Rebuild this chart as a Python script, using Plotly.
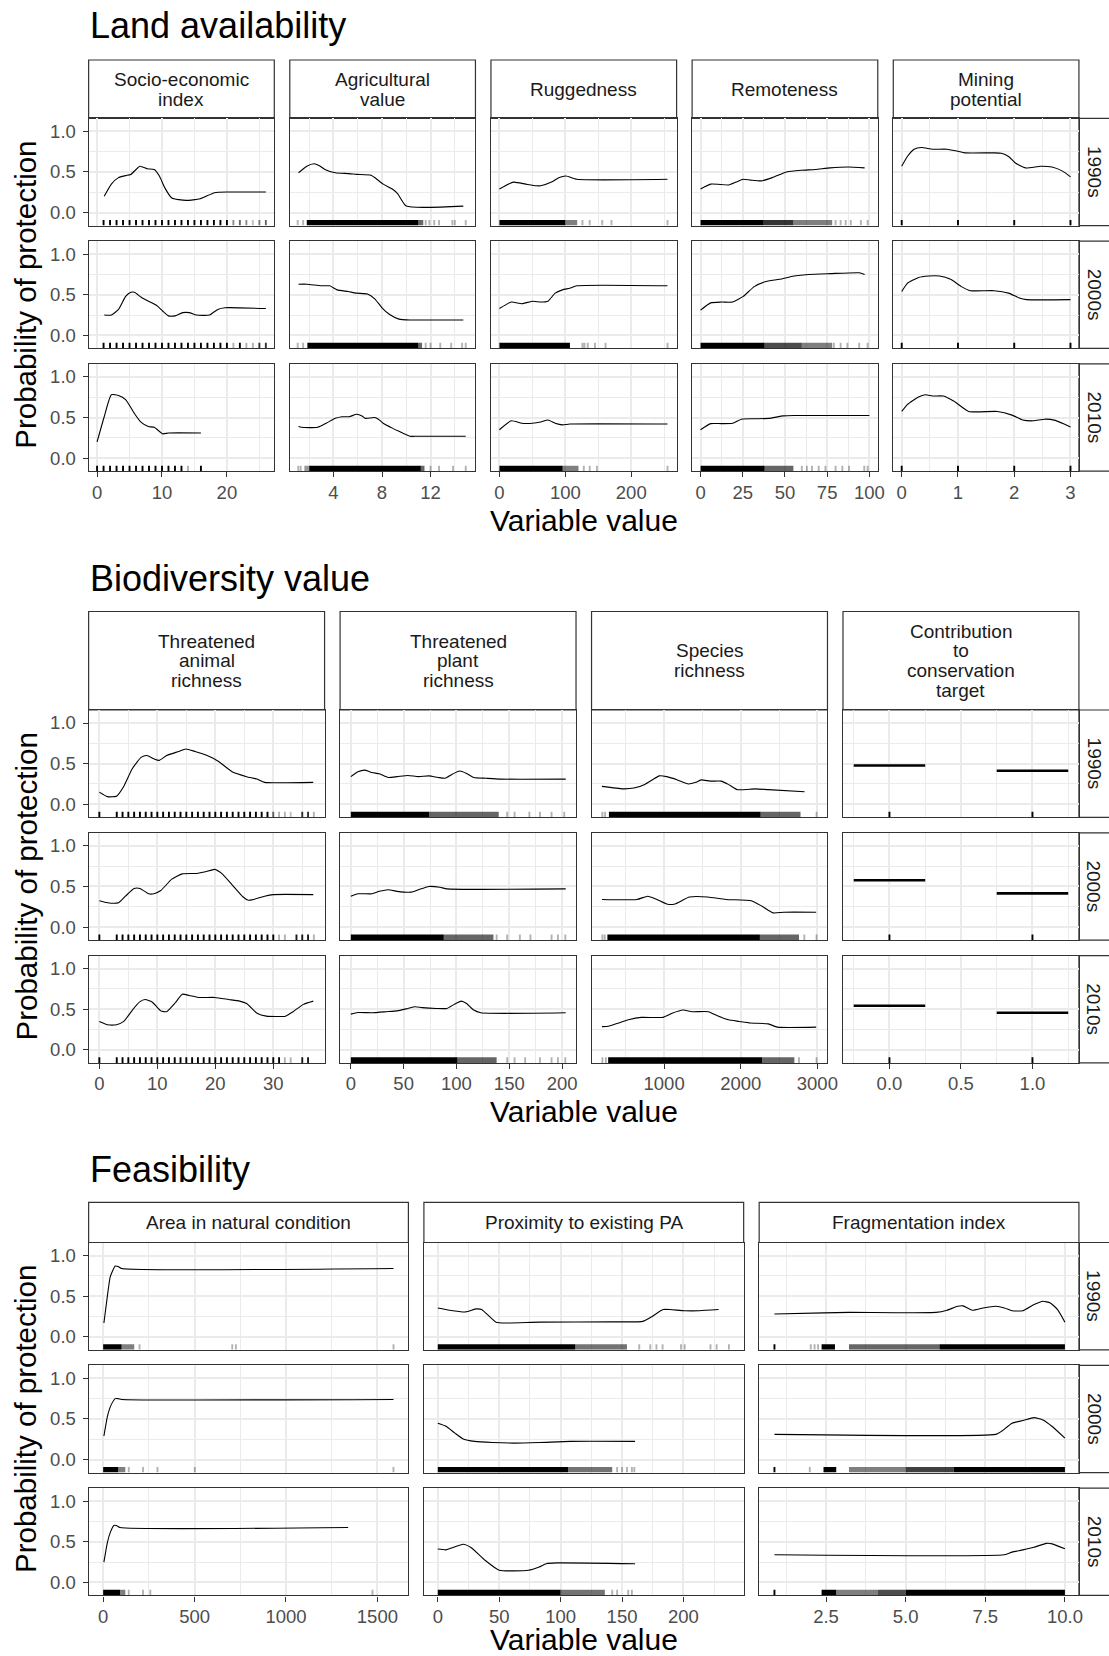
import plotly.graph_objects as go

# ------------------------------------------------------------------
# DATA
# ------------------------------------------------------------------
DECADES = ["1990s", "2000s", "2010s"]

# ---- Land availability: partial-dependence curves (x, probability) ----
socio_1990s = [(1.1, 0.20), (2.2, 0.35), (3.3, 0.43), (4.4, 0.455), (5.2, 0.47), (6.6, 0.57), (7.7, 0.54),
               (8.8, 0.53), (9.6, 0.45), (10.4, 0.31), (11.5, 0.18), (13.7, 0.15), (15.9, 0.17), (18.1, 0.245),
               (20.3, 0.253), (26, 0.253)]
socio_2000s = [(1.1, 0.25), (2.2, 0.25), (3.3, 0.32), (4.4, 0.48), (5.2, 0.53), (5.75, 0.53), (6.8, 0.47),
               (8.2, 0.41), (9.3, 0.36), (10.1, 0.30), (11, 0.24), (12, 0.24), (13.2, 0.28), (14.2, 0.28),
               (15.3, 0.25), (17.3, 0.25), (18.6, 0.32), (19.7, 0.34), (26, 0.33)]
socio_2010s = [(0, 0.20), (1.1, 0.51), (2.2, 0.78), (3.3, 0.77), (4.4, 0.72), (5.75, 0.55), (6.8, 0.44),
               (7.9, 0.39), (8.8, 0.38), (10.1, 0.30), (11, 0.31), (16, 0.31)]

agri_1990s = [(1.12, 0.49), (1.8, 0.57), (2.4, 0.60), (2.8, 0.58), (3.3, 0.53), (4.15, 0.49), (5.3, 0.48),
              (5.9, 0.47), (7.1, 0.46), (7.5, 0.42), (8.1, 0.35), (8.85, 0.29), (9.3, 0.23), (10.0, 0.08),
              (14.7, 0.08)]
agri_2000s = [(1.12, 0.63), (1.8, 0.63), (3.0, 0.61), (3.7, 0.61), (4.3, 0.56), (5.2, 0.54), (5.9, 0.52),
              (6.8, 0.51), (7.4, 0.45), (8.0, 0.34), (8.6, 0.26), (9.4, 0.20), (10.3, 0.19), (14.7, 0.19)]
agri_2010s = [(1.12, 0.39), (1.35, 0.38), (2.7, 0.38), (3.4, 0.43), (4.15, 0.49), (4.7, 0.51), (5.3, 0.51),
              (5.9, 0.54), (6.35, 0.52), (6.6, 0.49), (7.4, 0.50), (7.7, 0.48), (8.1, 0.43), (8.85, 0.37),
              (9.4, 0.33), (10.3, 0.27), (10.9, 0.27), (14.9, 0.27)]

rugged_1990s = [(0, 0.29), (21, 0.375), (40, 0.35), (56, 0.33), (62.6, 0.33), (79, 0.375), (90, 0.43),
                (101, 0.45), (117.6, 0.41), (255, 0.41)]
rugged_2000s = [(0, 0.33), (18, 0.41), (34, 0.39), (50.6, 0.42), (62.6, 0.41), (73.6, 0.42), (84.6, 0.52),
                (95.6, 0.56), (106.6, 0.58), (117.6, 0.61), (255, 0.61)]
rugged_2010s = [(0, 0.35), (18, 0.46), (34, 0.43), (50, 0.43), (62.6, 0.445), (73.6, 0.47), (84.6, 0.43),
                (95.6, 0.41), (106.6, 0.42), (255, 0.42)]

remote_1990s = [(0, 0.29), (6, 0.35), (16.7, 0.34), (21, 0.375), (25.3, 0.41), (29.6, 0.40), (36, 0.39),
                (42.5, 0.43), (51, 0.50), (59.7, 0.52), (68, 0.53), (76.8, 0.55), (87.6, 0.56), (97.2, 0.55)]
remote_2000s = [(0, 0.31), (6, 0.40), (12.4, 0.41), (18.9, 0.41), (25.3, 0.48), (31.8, 0.60), (38.2, 0.66),
                (46.8, 0.69), (55.4, 0.73), (64, 0.75), (76.8, 0.76), (94, 0.77), (97.2, 0.75)]
remote_2010s = [(0, 0.35), (6, 0.425), (12.4, 0.425), (19, 0.43), (24.2, 0.48), (31.8, 0.485), (40.3, 0.49),
                (49, 0.52), (55.4, 0.525), (100, 0.525)]

mining_1990s = [(0, 0.57), (0.1, 0.69), (0.22, 0.78), (0.35, 0.80), (0.55, 0.78), (0.8, 0.78), (1.0, 0.755),
                (1.12, 0.735), (1.64, 0.735), (1.77, 0.73), (1.9, 0.69), (2.02, 0.61), (2.2, 0.55),
                (2.47, 0.57), (2.67, 0.56), (2.86, 0.51), (3, 0.44)]
mining_2000s = [(0, 0.54), (0.1, 0.64), (0.29, 0.71), (0.48, 0.73), (0.67, 0.73), (0.87, 0.69), (1.06, 0.60),
                (1.22, 0.55), (1.64, 0.55), (1.9, 0.52), (2.09, 0.46), (2.22, 0.44), (3, 0.44)]
mining_2010s = [(0, 0.575), (0.1, 0.66), (0.29, 0.75), (0.42, 0.78), (0.55, 0.765), (0.74, 0.765),
                (0.93, 0.70), (1.19, 0.575), (1.7, 0.575), (1.96, 0.53), (2.15, 0.47), (2.34, 0.46),
                (2.54, 0.48), (2.73, 0.465), (3, 0.385)]

# ---- Biodiversity value ----
animal_1990s = [(0, 0.15), (1.4, 0.094), (2.95, 0.10), (4.2, 0.22), (5.7, 0.44), (7.25, 0.58), (8.2, 0.60),
                (9.4, 0.56), (10.3, 0.54), (11.6, 0.60), (13.7, 0.65), (14.9, 0.68), (16.5, 0.65),
                (18.6, 0.60), (20.5, 0.53), (22.9, 0.40), (25.4, 0.34), (27.2, 0.31), (28.5, 0.27), (36.9, 0.27)]
animal_2000s = [(0, 0.325), (1.4, 0.30), (3.3, 0.30), (4.5, 0.38), (6.0, 0.475), (7.0, 0.475), (8.5, 0.41),
                (9.4, 0.41), (10.6, 0.45), (12.5, 0.59), (14.3, 0.655), (16.8, 0.66), (18.3, 0.68),
                (19.9, 0.71), (21.1, 0.66), (22.9, 0.52), (24.8, 0.37), (25.7, 0.33), (26.6, 0.34),
                (28.5, 0.38), (30, 0.40), (36.9, 0.40)]
animal_2010s = [(0, 0.35), (1.4, 0.31), (2.95, 0.31), (4.2, 0.35), (5.7, 0.49), (6.95, 0.59), (7.9, 0.62),
                (9.1, 0.59), (10.6, 0.48), (11.6, 0.47), (13.1, 0.58), (14.3, 0.685), (15.5, 0.67),
                (17.1, 0.645), (19.9, 0.645), (22.3, 0.62), (24.2, 0.60), (25.4, 0.57), (27.2, 0.45),
                (28.8, 0.415), (32.1, 0.415), (33.4, 0.47), (35.2, 0.56), (36.9, 0.60)]

plant_1990s = [(0, 0.34), (6.7, 0.40), (13.5, 0.42), (20.2, 0.39), (27, 0.375), (35.4, 0.33), (43.8, 0.34),
               (54, 0.355), (64, 0.34), (74, 0.35), (82.6, 0.33), (89.3, 0.32), (96, 0.37), (102.8, 0.41),
               (109.6, 0.38), (116.3, 0.33), (128, 0.32), (141.6, 0.31), (203.4, 0.31)]
plant_2000s = [(0, 0.38), (6.7, 0.41), (20.2, 0.41), (27, 0.44), (35.4, 0.46), (43.8, 0.44), (57.3, 0.43),
               (64, 0.46), (74, 0.50), (84.3, 0.49), (91, 0.47), (203.4, 0.47)]
plant_2010s = [(0, 0.44), (6.7, 0.46), (20.2, 0.457), (33.7, 0.47), (43.8, 0.48), (54, 0.51), (60.7, 0.53),
               (67.4, 0.52), (80.9, 0.51), (91, 0.51), (97.8, 0.56), (104.5, 0.60), (109.6, 0.57),
               (116.3, 0.49), (123, 0.457), (203.4, 0.457)]

species_1990s = [(189, 0.22), (465, 0.19), (606, 0.20), (748, 0.245), (843, 0.30), (938, 0.35), (1033, 0.34),
                 (1175, 0.30), (1317, 0.25), (1411, 0.27), (1483, 0.30), (1601, 0.285), (1743, 0.285),
                 (1838, 0.245), (1957, 0.18), (2194, 0.19), (2359, 0.18), (2833, 0.155)]
species_2000s = [(189, 0.34), (645, 0.34), (787, 0.38), (905, 0.34), (1047, 0.28), (1142, 0.285), (1332, 0.37),
                 (1568, 0.37), (1805, 0.34), (2137, 0.325), (2279, 0.256), (2422, 0.175), (2563, 0.183),
                 (2984, 0.183)]
species_2010s = [(189, 0.286), (274, 0.29), (393, 0.327), (535, 0.37), (701, 0.40), (985, 0.40), (1104, 0.45),
                 (1246, 0.49), (1364, 0.47), (1577, 0.47), (1696, 0.42), (1838, 0.37), (1980, 0.35),
                 (2123, 0.33), (2359, 0.32), (2478, 0.28), (2984, 0.28)]

contrib_levels = [0, 1]
contrib_1990s = [0.478, 0.412]
contrib_2000s = [0.577, 0.415]
contrib_2010s = [0.543, 0.457]

# ---- Feasibility ----
area_1990s = [(4, 0.17), (23, 0.50), (39, 0.74), (66, 0.87), (82, 0.865), (101, 0.84), (1588, 0.84)]
area_2000s = [(4, 0.29), (23, 0.53), (43, 0.67), (66, 0.75), (82, 0.75), (101, 0.74), (1588, 0.74)]
area_2010s = [(4, 0.25), (23, 0.49), (39, 0.615), (58.5, 0.70), (72, 0.70), (92, 0.675), (1340, 0.675)]

prox_1990s = [(0, 0.355), (9.6, 0.327), (22.7, 0.306), (31.4, 0.343), (35.7, 0.335), (47.4, 0.18), (56, 0.17),
              (82.9, 0.18), (142, 0.184), (167, 0.19), (174.5, 0.25), (183.4, 0.335), (189, 0.335),
              (201, 0.32), (213, 0.32), (228.6, 0.335)]
prox_2000s = [(0, 0.447), (6.7, 0.41), (14, 0.325), (21.2, 0.25), (30, 0.224), (44.5, 0.21), (62, 0.203),
              (82.9, 0.21), (108, 0.224), (160.6, 0.224)]
prox_2010s = [(0, 0.41), (6.7, 0.40), (12.5, 0.43), (20.6, 0.47), (27, 0.43), (38.7, 0.27), (50, 0.15),
              (73.8, 0.15), (82.5, 0.19), (88.3, 0.23), (97, 0.24), (160.6, 0.23)]

frag_1990s = [(0.88, 0.28), (2.42, 0.294), (3.22, 0.30), (5.95, 0.30), (6.3, 0.327), (6.63, 0.375), (6.8, 0.38),
              (7.09, 0.327), (7.43, 0.355), (7.83, 0.375), (8.1, 0.355), (8.34, 0.32), (8.68, 0.32),
              (9.03, 0.396), (9.31, 0.437), (9.54, 0.416), (9.77, 0.335), (10.0, 0.18)]
frag_2000s = [(0.88, 0.31), (7.83, 0.31), (8.0, 0.345), (8.34, 0.447), (8.68, 0.48), (9.03, 0.516),
              (9.31, 0.488), (9.6, 0.407), (10, 0.264)]
frag_2010s = [(0.88, 0.34), (8.1, 0.34), (8.34, 0.372), (8.68, 0.40), (9.03, 0.433), (9.42, 0.48),
              (9.6, 0.474), (10, 0.413)]

# ---- Rugs: single observations (value, opacity) and dense runs (from, to, opacity) ----
socio_rug_1990s = [(1, 1), (2, 1), (3, 1), (4, 1), (5, 1), (6, 1), (7, 1), (8, 1), (9, 1), (10, 1), (11, 1),
                   (12, 1), (13, 1), (14, 1), (15, 1), (16, 1), (17, 1), (18, 1), (19, 1), (20, 1),
                   (21, .45), (22, .6), (23, .45), (24, .25), (25, .5), (26, .6)]
socio_rug_2000s = [(1, 1), (2, 1), (3, 1), (4, 1), (5, 1), (6, 1), (7, 1), (8, 1), (9, 1), (10, 1), (11, 1),
                   (12, 1), (13, 1), (14, 1), (15, 1), (16, 1), (17, 1), (18, 1), (19, 1), (20, 1),
                   (21, .3), (22, 1), (23, .3), (24, .3), (25, .8), (26, .8)]
socio_rug_2010s = [(0, 1), (1, 1), (2, 1), (3, 1), (4, 1), (5, 1), (6, 1), (7, 1), (8, 1), (9, 1), (10, 1),
                   (11, 1), (12, 1), (13, 1), (14, .3), (16, 1)]

agri_band_1990s = [(1.8, 11.0, 1.0), (11.0, 11.4, 0.6)]
agri_rug_1990s = [(1.05, .3), (1.5, .3), (11.6, .3), (11.9, .3), (12.3, .3), (12.7, .3), (13.8, .3), (14.0, .3),
                  (14.9, .3)]
agri_band_2000s = [(1.85, 11.0, 1.0), (11.0, 11.3, 0.6)]
agri_rug_2000s = [(1.05, .3), (1.5, .3), (11.6, .3), (12.0, .3), (12.8, .3), (13.7, .3), (14.6, .3), (14.9, .3)]
agri_band_2010s = [(1.6, 2.0, 0.4), (2.0, 11.2, 1.0), (11.2, 11.5, 0.6)]
agri_rug_2010s = [(1.1, .3), (1.3, .3), (12.0, .3), (12.7, .3), (13.85, .3), (14.9, .3)]

rugged_band_1990s = [(0, 100, 1.0), (100, 118, 0.5)]
rugged_rug_1990s = [(126, .3), (137, .3), (156, .3), (170, .3), (255, .3)]
rugged_band_2000s = [(0, 107, 1.0)]
rugged_rug_2000s = [(126, .3), (129, .3), (134, .3), (145, .3), (161, .3), (255, .3)]
rugged_band_2010s = [(0, 96, 1.0), (96, 120, 0.5)]
rugged_rug_2010s = [(128, .3), (137, .3), (148, .3), (255, .3)]

remote_band_1990s = [(0, 37, 1.0), (37, 55, 0.8), (55, 78, 0.5)]
remote_rug_1990s = [(80, .3), (83, .3), (86, .3), (89, .3), (95, .3), (99, .3)]
remote_band_2000s = [(0, 38, 1.0), (38, 60, 0.7), (60, 78, 0.5)]
remote_rug_2000s = [(79, .3), (83, .3), (87, .3), (94, .3), (99, .3)]
remote_band_2010s = [(0, 38, 1.0), (38, 55, 0.6)]
remote_rug_2010s = [(60, .3), (63, .3), (66, .3), (70, .3), (74, .3), (80, .3), (84, .3), (88, .3), (97, .3),
                    (99, .3)]

mining_rug = [(0, 1), (1, 1), (2, 1), (3, 1)]

animal_rug_1990s = [(0, 1), (3, 1), (4, 1), (5, 1), (6, 1), (7, 1), (8, 1), (9, 1), (10, 1), (11, 1), (12, 1),
                    (13, 1), (14, 1), (15, 1), (16, 1), (17, 1), (18, 1), (19, 1), (20, 1), (21, 1), (22, 1),
                    (23, 1), (24, 1), (25, 1), (26, 1), (27, 1), (28, 1), (29, 1), (30, .6), (31, .3), (32, .3),
                    (33, .25), (35, .8), (36, .8), (37, .3)]
animal_rug_2000s = [(0, 1), (3, 1), (4, 1), (5, 1), (6, 1), (7, 1), (8, 1), (9, 1), (10, 1), (11, 1), (12, 1),
                    (13, 1), (14, 1), (15, 1), (16, 1), (17, 1), (18, 1), (19, 1), (20, 1), (21, 1), (22, 1),
                    (23, 1), (24, 1), (25, 1), (26, 1), (27, 1), (28, 1), (29, 1), (30, 1), (31, .3), (32, .3),
                    (34, .9), (35, .9), (36, .9), (37, .3)]
animal_rug_2010s = [(0, 1), (3, 1), (4, 1), (5, 1), (6, 1), (7, 1), (8, 1), (9, 1), (10, 1), (11, 1), (12, 1),
                    (13, 1), (14, 1), (15, 1), (16, 1), (17, 1), (18, 1), (19, 1), (20, 1), (21, 1), (22, 1),
                    (23, 1), (24, 1), (25, 1), (26, 1), (27, 1), (28, 1), (29, 1), (30, 1), (31, 1), (32, .3),
                    (33, .3), (35, .9), (36, .9)]

plant_band_1990s = [(0, 74, 1.0), (74, 140, 0.6)]
plant_rug_1990s = [(148, .3), (155, .3), (169, .3), (179, .3), (190, .3), (202, .3)]
plant_band_2000s = [(0, 88, 1.0), (88, 135, 0.6)]
plant_rug_2000s = [(138, .3), (148, .3), (160, .3), (170, .3), (190, .3), (196, .3), (203, .3)]
plant_band_2010s = [(0, 101, 1.0), (101, 138, 0.6)]
plant_rug_2010s = [(148, .3), (155, .3), (165, .3), (179, .3), (190, .3), (196, .3), (203, .3)]

species_band_1990s = [(280, 2260, 1.0), (2260, 2780, 0.6)]
species_rug_1990s = [(195, .3), (230, .3), (2990, .3)]
species_band_2000s = [(260, 2250, 1.0), (2250, 2760, 0.6)]
species_rug_2000s = [(195, .3), (225, .3), (2830, .3), (2990, .3)]
species_band_2010s = [(270, 2280, 1.0), (2280, 2700, 0.6)]
species_rug_2010s = [(195, .3), (240, .3), (2760, .3), (2990, .3)]

contrib_rug = [(0, 1), (1, 1)]

area_band_1990s = [(0, 101, 1.0), (101, 170, 0.5)]
area_rug_1990s = [(199, .3), (706, .3), (726, .3), (1588, .3)]
area_band_2000s = [(0, 82, 1.0), (82, 121, 0.5)]
area_rug_2000s = [(140, .3), (218, .3), (297, .3), (501, .3), (1588, .3)]
area_band_2010s = [(0, 92, 1.0), (92, 121, 0.5)]
area_rug_2010s = [(140, .3), (218, .3), (258, .3), (1473, .3)]

prox_band_1990s = [(0, 112, 1.0), (112, 154, 0.55)]
prox_rug_1990s = [(164, .3), (173, .3), (178, .3), (183, .3), (198, .3), (201, .3), (222, .3), (227, .3),
                  (237, .3)]
prox_band_2000s = [(0, 106, 1.0), (106, 142, 0.55)]
prox_rug_2000s = [(146, .3), (150, .3), (154, .3), (158, .3), (160, .3)]
prox_band_2010s = [(0, 100, 1.0), (100, 136, 0.55)]
prox_rug_2010s = [(142, .3), (146, .3), (155, .3), (158, .3)]

frag_band_1990s = [(2.36, 2.78, 1.0), (3.22, 6.06, 0.6), (6.06, 10.0, 1.0)]
frag_rug_1990s = [(0.88, 1), (2.02, .3), (2.14, .3), (2.25, .3)]
frag_band_2000s = [(2.42, 2.82, 1.0), (3.22, 5.0, 0.5), (5.0, 6.5, 0.75), (6.5, 10.0, 1.0)]
frag_rug_2000s = [(0.88, 1), (1.99, .3)]
frag_band_2010s = [(2.36, 2.82, 1.0), (2.82, 4.13, 0.5), (4.13, 5.0, 0.7), (5.0, 10.0, 1.0)]
frag_rug_2010s = [(0.88, 1)]

# ------------------------------------------------------------------
# PANEL CONFIGURATION
# ------------------------------------------------------------------
VARS = {
    "socio": dict(label=["Socio-economic", "index"], rng=[-1.3, 27.3], dtick=10, minor=5, fmt="",
                  curves=[socio_1990s, socio_2000s, socio_2010s],
                  rugs=[socio_rug_1990s, socio_rug_2000s, socio_rug_2010s], bands=[[], [], []]),
    "agri": dict(label=["Agricultural", "value"], rng=[0.4, 15.7], dtick=4, minor=2, fmt="",
                 curves=[agri_1990s, agri_2000s, agri_2010s],
                 rugs=[agri_rug_1990s, agri_rug_2000s, agri_rug_2010s],
                 bands=[agri_band_1990s, agri_band_2000s, agri_band_2010s]),
    "rugged": dict(label=["Ruggedness"], rng=[-12.8, 268.8], dtick=100, minor=50, fmt="",
                   curves=[rugged_1990s, rugged_2000s, rugged_2010s],
                   rugs=[rugged_rug_1990s, rugged_rug_2000s, rugged_rug_2010s],
                   bands=[rugged_band_1990s, rugged_band_2000s, rugged_band_2010s]),
    "remote": dict(label=["Remoteness"], rng=[-5, 105], dtick=25, minor=12.5, fmt="",
                   curves=[remote_1990s, remote_2000s, remote_2010s],
                   rugs=[remote_rug_1990s, remote_rug_2000s, remote_rug_2010s],
                   bands=[remote_band_1990s, remote_band_2000s, remote_band_2010s]),
    "mining": dict(label=["Mining", "potential"], rng=[-0.15, 3.15], dtick=1, minor=0.5, fmt="",
                   curves=[mining_1990s, mining_2000s, mining_2010s],
                   rugs=[mining_rug, mining_rug, mining_rug], bands=[[], [], []]),
    "animal": dict(label=["Threatened", "animal", "richness"], rng=[-1.85, 38.85], dtick=10, minor=5, fmt="",
                   curves=[animal_1990s, animal_2000s, animal_2010s],
                   rugs=[animal_rug_1990s, animal_rug_2000s, animal_rug_2010s], bands=[[], [], []]),
    "plant": dict(label=["Threatened", "plant", "richness"], rng=[-10.15, 213.15], dtick=50, minor=25, fmt="",
                  curves=[plant_1990s, plant_2000s, plant_2010s],
                  rugs=[plant_rug_1990s, plant_rug_2000s, plant_rug_2010s],
                  bands=[plant_band_1990s, plant_band_2000s, plant_band_2010s]),
    "species": dict(label=["Species", "richness"], rng=[53, 3132], dtick=1000, minor=500, fmt="",
                    curves=[species_1990s, species_2000s, species_2010s],
                    rugs=[species_rug_1990s, species_rug_2000s, species_rug_2010s],
                    bands=[species_band_1990s, species_band_2000s, species_band_2010s]),
    "contrib": dict(label=["Contribution", "to", "conservation", "target"], rng=[-0.325, 1.325], dtick=0.5,
                    minor=0.25, fmt=".1f", levels=[contrib_1990s, contrib_2000s, contrib_2010s],
                    rugs=[contrib_rug, contrib_rug, contrib_rug], bands=[[], [], []]),
    "area": dict(label=["Area in natural condition"], rng=[-79.5, 1669.5], dtick=500, minor=250, fmt="",
                 curves=[area_1990s, area_2000s, area_2010s],
                 rugs=[area_rug_1990s, area_rug_2000s, area_rug_2010s],
                 bands=[area_band_1990s, area_band_2000s, area_band_2010s]),
    "prox": dict(label=["Proximity to existing PA"], rng=[-11.3, 249], dtick=50, minor=25, fmt="",
                 curves=[prox_1990s, prox_2000s, prox_2010s],
                 rugs=[prox_rug_1990s, prox_rug_2000s, prox_rug_2010s],
                 bands=[prox_band_1990s, prox_band_2000s, prox_band_2010s]),
    "frag": dict(label=["Fragmentation index"], rng=[0.4, 10.44], dtick=2.5, minor=1.25, fmt=".1f",
                 curves=[frag_1990s, frag_2000s, frag_2010s],
                 rugs=[frag_rug_1990s, frag_rug_2000s, frag_rug_2010s],
                 bands=[frag_band_1990s, frag_band_2000s, frag_band_2010s]),
}

SECTIONS = [
    dict(title="Land availability", title_y=26, strip_top=60.0, strip_bot=118.3, xtitle_y=521,
         vars=["socio", "agri", "rugged", "remote", "mining"]),
    dict(title="Biodiversity value", title_y=578, strip_top=611.5, strip_bot=710.0, xtitle_y=1111,
         vars=["animal", "plant", "species", "contrib"]),
    dict(title="Feasibility", title_y=1169, strip_top=1202.3, strip_bot=1242.5, xtitle_y=1639,
         vars=["area", "prox", "frag"]),
]

# ------------------------------------------------------------------
# STYLE / GEOMETRY
# ------------------------------------------------------------------
W, H = 1109, 1656
XK = 1.0095          # horizontal calibration of the page
FONT = "Liberation Sans, Arial, Helvetica, sans-serif"
LEFT, RIGHT, GAP, ROW_H = 88.6, 1078.5, 15.5, 107.3
STRIP_TEXT_X = 1104
YR = [-0.16, 1.16]
RUG_LEN = 0.068
LINE_SP = 19.7
BORDER = "#333333"
GRID = "#EBEBEB"
TICK_FONT = dict(family=FONT, size=18.5, color="#4D4D4D")
STRIP_FONT = dict(family=FONT, size=19, color="#1A1A1A")


def fx(px):
    return min(px * XK / W, 1.2)


def fy(py):
    return 1 - py / H


fig = go.Figure()
layout = {}
shapes = []
annotations = []
n = 0

for sec in SECTIONS:
    ncol = len(sec["vars"])
    pw = (RIGHT - LEFT - (ncol - 1) * GAP) / ncol
    annotations.append(dict(text=sec["title"], x=fx(LEFT - 1), y=fy(sec["title_y"]), xref="paper", yref="paper",
                            xanchor="left", yanchor="middle", showarrow=False,
                            font=dict(family=FONT, size=36, color="black")))
    rows_top = sec["strip_bot"]
    rows_bot = sec["strip_bot"] + 3 * ROW_H + 2 * GAP
    annotations.append(dict(text="Probability of protection", x=fx(26.0), y=fy((rows_top + rows_bot) / 2),
                            xref="paper", yref="paper", textangle=-90, showarrow=False,
                            xanchor="center", yanchor="middle", font=dict(family=FONT, size=29.5, color="black")))
    annotations.append(dict(text="Variable value", x=fx((LEFT + RIGHT) / 2), y=fy(sec["xtitle_y"]),
                            xref="paper", yref="paper", showarrow=False, xanchor="center", yanchor="middle",
                            font=dict(family=FONT, size=30, color="black")))
    # right strips
    for r, dec in enumerate(DECADES):
        y0 = sec["strip_bot"] + r * (ROW_H + GAP)
        y1 = y0 + ROW_H
        shapes.append(dict(type="rect", xref="paper", yref="paper", x0=fx(RIGHT), x1=1.05,
                           y0=fy(y1), y1=fy(y0), fillcolor="white", line=dict(color=BORDER, width=1.2),
                           layer="below"))
        annotations.append(dict(text=dec, x=STRIP_TEXT_X / W, y=fy((y0 + y1) / 2), xref="paper", yref="paper",
                                textangle=90, showarrow=False, xanchor="center", yanchor="middle",
                                font=STRIP_FONT))
    for c, key in enumerate(sec["vars"]):
        v = VARS[key]
        x0 = LEFT + c * (pw + GAP)
        x1 = x0 + pw
        # top strip
        shapes.append(dict(type="rect", xref="paper", yref="paper", x0=fx(x0), x1=fx(x1),
                           y0=fy(sec["strip_bot"]), y1=fy(sec["strip_top"]), fillcolor="white",
                           line=dict(color=BORDER, width=1.2), layer="below"))
        nl = len(v["label"])
        cy = (sec["strip_top"] + sec["strip_bot"]) / 2
        for i, line in enumerate(v["label"]):
            annotations.append(dict(text=line, x=fx((x0 + x1) / 2), y=fy(cy + (i - (nl - 1) / 2) * LINE_SP),
                                    xref="paper", yref="paper", showarrow=False, xanchor="center",
                                    yanchor="middle", font=STRIP_FONT))
        for r, dec in enumerate(DECADES):
            n += 1
            y0 = sec["strip_bot"] + r * (ROW_H + GAP)
            y1 = y0 + ROW_H
            xs = "x" if n == 1 else f"x{n}"
            ys = "y" if n == 1 else f"y{n}"
            bottom = (r == 2)
            first = (c == 0)
            layout["xaxis" if n == 1 else f"xaxis{n}"] = dict(
                domain=[fx(x0), fx(x1)], anchor=ys, range=v["rng"], tick0=0, dtick=v["dtick"],
                tickformat=v["fmt"], showgrid=True, gridcolor=GRID, gridwidth=1.5, zeroline=False,
                minor=dict(tick0=0, dtick=v["minor"], showgrid=True, gridcolor=GRID, gridwidth=0.8, ticks=""),
                showline=True, mirror=True, linecolor=BORDER, linewidth=1.2,
                ticks="outside" if bottom else "", ticklen=5, tickwidth=1.1, tickcolor=BORDER,
                showticklabels=bottom, tickfont=TICK_FONT, ticklabelstandoff=-1, fixedrange=True)
            layout["yaxis" if n == 1 else f"yaxis{n}"] = dict(
                domain=[fy(y1), fy(y0)], anchor=xs, range=YR, tick0=0, dtick=0.5, tickformat=".1f",
                showgrid=True, gridcolor=GRID, gridwidth=1.5, zeroline=False,
                minor=dict(tick0=0, dtick=0.25, showgrid=True, gridcolor=GRID, gridwidth=0.8, ticks=""),
                showline=True, mirror=True, linecolor=BORDER, linewidth=1.2,
                ticks="outside" if first else "", ticklen=5, tickwidth=1.1, tickcolor=BORDER,
                showticklabels=first, tickfont=TICK_FONT, ticklabelstandoff=3, fixedrange=True)
            # rug bands
            rb, rt = YR[0], YR[0] + RUG_LEN
            for (a, b, al) in v["bands"][r]:
                fig.add_trace(go.Scatter(x=[a, b, b, a, a], y=[rb, rb, rt, rt, rb], mode="lines", fill="toself",
                                         fillcolor=f"rgba(0,0,0,{al})", line=dict(width=0),
                                         xaxis=xs, yaxis=ys, hoverinfo="skip", showlegend=False))
            # rug ticks grouped by opacity
            groups = {}
            for (val, al) in v["rugs"][r]:
                groups.setdefault(al, []).append(val)
            for al, vals in groups.items():
                gx, gy = [], []
                for val in vals:
                    gx += [val, val, None]
                    gy += [rb, rt, None]
                fig.add_trace(go.Scatter(x=gx, y=gy, mode="lines", line=dict(color=f"rgba(0,0,0,{al})", width=1.9),
                                         xaxis=xs, yaxis=ys, hoverinfo="skip", showlegend=False))
            # curve or crossbars
            if "curves" in v:
                cv = v["curves"][r]
                fig.add_trace(go.Scatter(x=[p[0] for p in cv], y=[p[1] for p in cv], mode="lines",
                                         line=dict(color="black", width=1.1, shape="spline", smoothing=0.5),
                                         xaxis=xs, yaxis=ys, hoverinfo="skip", showlegend=False))
            else:
                for lev, val in zip(contrib_levels, v["levels"][r]):
                    fig.add_trace(go.Scatter(x=[lev - 0.25, lev + 0.25], y=[val, val], mode="lines",
                                             line=dict(color="black", width=2.6),
                                             xaxis=xs, yaxis=ys, hoverinfo="skip", showlegend=False))

fig.update_layout(width=W, height=H, autosize=False, margin=dict(l=0, r=0, t=0, b=0, pad=0),
                  paper_bgcolor="white", plot_bgcolor="white", showlegend=False, shapes=shapes,
                  annotations=annotations, font=dict(family=FONT), **layout)
fig.write_html("out.html", config=dict(displayModeBar=False, responsive=False),
               post_script="document.body.style.margin='0';document.body.style.overflow='hidden';")
